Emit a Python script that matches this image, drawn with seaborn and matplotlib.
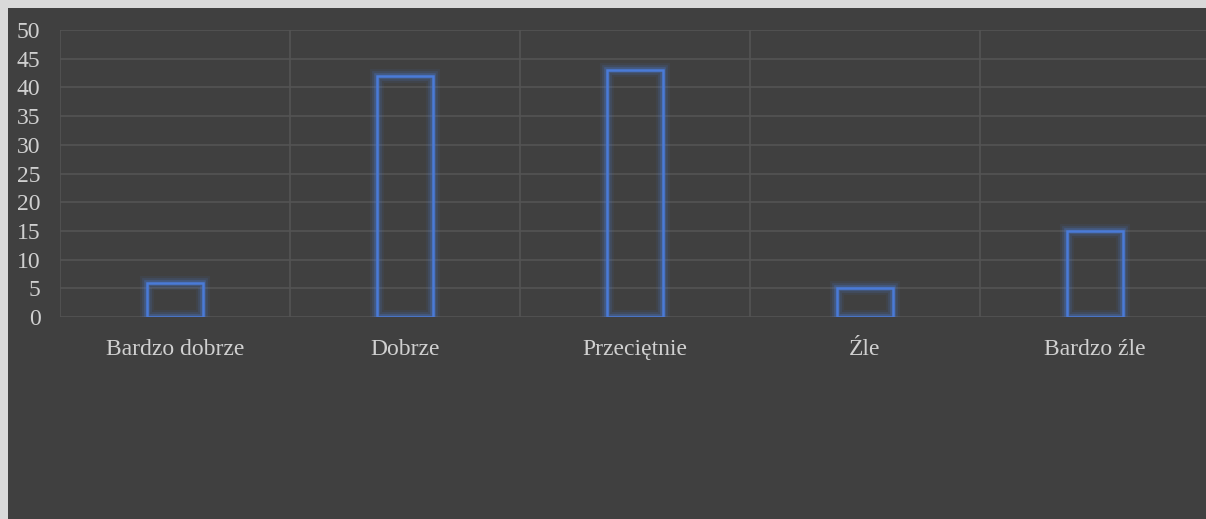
import matplotlib
matplotlib.use("Agg")
import matplotlib.pyplot as plt
import matplotlib.patheffects as pe
from matplotlib.patches import Rectangle
import seaborn as sns
import pandas as pd
import numpy as np

# data
categories = ["Bardzo dobrze", "Dobrze", "Przeciętnie", "Źle", "Bardzo źle"]
values = [6, 42, 43, 5, 15]

df = pd.DataFrame({"cat": categories, "val": values})

bg = "#404040"
grid_c = "#555555"
text_c = "#d0d0d0"
blue = "#4a7bd8"

sns.set_theme(style="dark")
plt.rcParams["font.family"] = ["Liberation Serif", "DejaVu Serif"]

fig = plt.figure(figsize=(12.06, 5.19), dpi=100, facecolor="#d9d9d9")
# dark panel inside the light frame
fig.patches.append(Rectangle((8 / 1206, 0), 1, 1 - 8 / 519, transform=fig.transFigure,
                             facecolor=bg, edgecolor="none", zorder=-10))
ax = fig.add_axes([60 / 1206, 1 - 317 / 519, 1150 / 1206, (317 - 30) / 519])
ax.set_facecolor(bg)

sns.barplot(data=df, x="cat", y="val", fill=False, width=0.245,
            edgecolor=blue, linewidth=1.8, ax=ax, zorder=3)
for p in ax.patches:
    p.set_edgecolor(blue)
    p.set_path_effects([
        pe.Stroke(linewidth=10, foreground=blue, alpha=0.08),
        pe.Stroke(linewidth=7, foreground=blue, alpha=0.15),
        pe.Stroke(linewidth=4, foreground=blue, alpha=0.3),
        pe.Normal(),
    ])

ax.set_ylim(0, 50)
ax.set_xlim(-0.5, len(categories) - 0.5)
ax.set_yticks(range(0, 51, 5))
ax.set_xticks(np.arange(-0.5, len(categories), 1), minor=True)
ax.grid(axis="y", which="major", color=grid_c, linewidth=1.1, zorder=0)
ax.grid(axis="x", which="minor", color=grid_c, linewidth=1.1, zorder=0)
ax.grid(axis="x", which="major", visible=False)
ax.set_axisbelow(True)

for s in ax.spines.values():
    s.set_visible(False)

ax.set_xlabel("")
ax.set_ylabel("")
ax.tick_params(axis="both", which="both", length=0, colors=text_c, labelsize=17)
ax.tick_params(axis="y", pad=14)
ax.tick_params(axis="x", pad=16)

fig.savefig("out.png", dpi=100, facecolor=fig.get_facecolor())
